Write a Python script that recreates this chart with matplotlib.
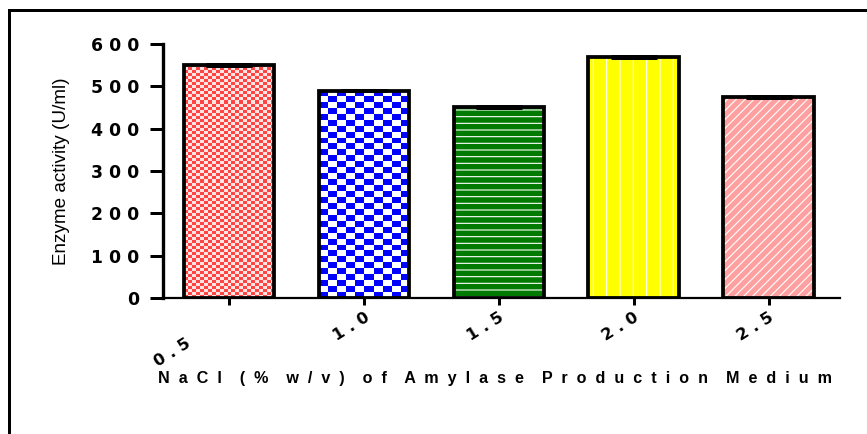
import numpy as np
import matplotlib
matplotlib.use('Agg')
import matplotlib.pyplot as plt
from matplotlib.colors import ListedColormap
from matplotlib.lines import Line2D
from matplotlib.transforms import ScaledTranslation

# data
nacl = ['0.5', '1.0', '1.5', '2.0', '2.5']
activity = [551, 490, 451, 570, 475]
err = [2, 2, 2, 2, 2]
yticks = [0, 100, 200, 300, 400, 500, 600]

DPI = 80
fig = plt.figure(figsize=(867 / DPI, 434 / DPI), dpi=DPI)
ax = fig.add_axes([163 / 867, 1 - 298 / 434, 677 / 867, 254 / 434])

x = np.arange(len(nacl))
w = 0.67

# fills: colour + white hatch
face = ['white', 'white', '#007a00', '#ffff00', '#ffa0a0']
hatch = [None, None, '--', '|', '///']
plt.rcParams['hatch.linewidth'] = 1.0
fills = ax.bar(x, activity, width=w, color=face, edgecolor='white', linewidth=0, zorder=2)
for b, h in zip(fills, hatch):
    if h:
        b.set_hatch(h)

# checker textures for the first two bars
def checker(bar, c1, c2, cw, ch):
    x0, wd, ht = bar.get_x(), bar.get_width(), bar.get_height()
    nx = max(1, int(round(wd / cw)))
    ny = max(1, int(round(ht / ch)))
    iy, ix = np.indices((ny, nx))
    img = (ix + iy) % 2
    ax.imshow(img, cmap=ListedColormap([c1, c2]), extent=(x0, x0 + wd, 0, ht),
              origin='lower', aspect='auto', interpolation='nearest', zorder=2.5)

checker(fills[0], '#ff4444', '#ffe4e4', 0.0296, 7.2)
checker(fills[1], '#0000ff', '#ffffff', 0.0645, 14.0)

# outlines
ax.bar(x, activity, width=w, fill=False, edgecolor='black', linewidth=3.4, zorder=3)
ax.errorbar(x, activity, yerr=err, fmt='none', ecolor='black', elinewidth=2.5,
            capsize=20.5, capthick=2.7, zorder=4)

ax.set_xlim(-0.49, 4.53)
ax.set_ylim(0, 600)

for s in ['top', 'right']:
    ax.spines[s].set_visible(False)
ax.spines['left'].set_linewidth(3.0)
ax.spines['bottom'].set_linewidth(2.0)

ax.set_yticks(yticks, labels=[' '.join(str(v)) for v in yticks],
              family='DejaVu Sans', fontweight='bold', fontsize=15.5)
ax.tick_params(axis='y', length=11.7, width=2.7, pad=10)
ax.set_xticks(x, labels=[''] * len(x))
ax.tick_params(axis='x', length=6.3, width=2.7)

# rotated tick labels (first one sits lower-left, as in the original)
offsets = [(-44, -38), (0, -12), (0, -12), (0, -12), (0, -12)]
for xi, lab, (dx, dy) in zip(x, nacl, offsets):
    tr = ax.get_xaxis_transform() + ScaledTranslation(dx / DPI, dy / DPI, fig.dpi_scale_trans)
    ax.text(xi, 0, ' '.join(lab), transform=tr, rotation=32, rotation_mode='anchor',
            ha='right', va='top', family='DejaVu Sans', fontweight='bold', fontsize=14.5)

xlab = 'NaCl (% w/v) of Amylase Production Medium'
ax.set_xlabel('    '.join('  '.join(wd) for wd in xlab.split(' ')), va='center',
              family='Liberation Sans', fontweight='bold', fontsize=14.5)
ax.xaxis.set_label_coords((495 - 163) / 677, (298 - 379) / 254)
ax.set_ylabel('Enzyme activity (U/ml)', va='center', family='Liberation Sans', fontsize=17)
ax.yaxis.set_label_coords((62 - 163) / 677, 0.5)

# frame lines at top and left of the picture
fig.add_artist(Line2D([8.7 / 867, 1], [1 - 9.5 / 434] * 2, color='black', lw=2.7))
fig.add_artist(Line2D([8.7 / 867] * 2, [0, 1 - 9.5 / 434], color='black', lw=2.7))

fig.savefig('out.png', dpi=DPI)
